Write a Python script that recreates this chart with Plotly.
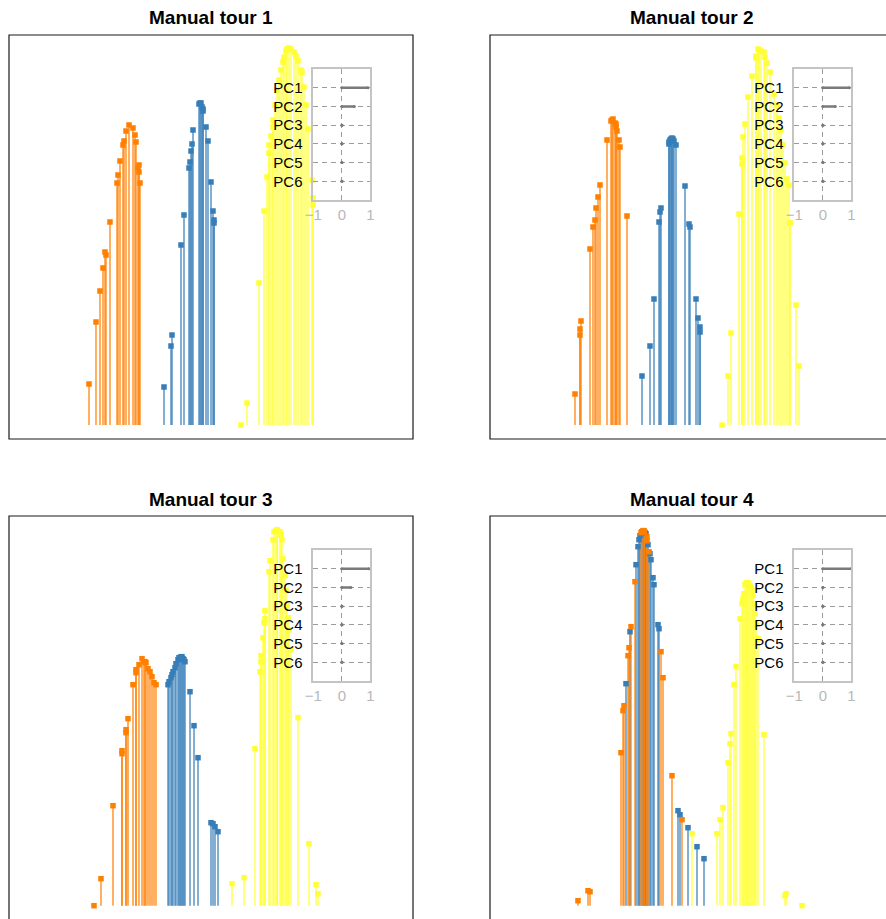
import plotly.graph_objects as go

# ---------------- data (projected value, density) ----------------
tour1_orange_x = [0.80, 0.87, 0.91, 0.94, 0.96, 0.97, 1.01, 1.08, 1.09, 1.11, 1.14, 1.15, 1.17, 1.20, 1.24, 1.26, 1.27, 1.30, 1.30, 1.29, 1.31]
tour1_orange_y = [0.41, 1.03, 1.34, 1.57, 1.73, 1.70, 2.03, 2.42, 2.50, 2.64, 2.80, 2.84, 2.94, 3.00, 2.97, 2.90, 2.83, 2.60, 2.53, 2.57, 2.42]
tour1_blue_x = [1.55, 1.62, 1.63, 1.72, 1.75, 1.80, 1.81, 1.82, 1.83, 1.84, 1.90, 1.91, 1.92, 1.93, 1.94, 1.94, 1.97, 1.99, 2.02, 2.04, 2.05, 2.05]
tour1_blue_y = [0.38, 0.79, 0.90, 1.80, 2.10, 2.57, 2.63, 2.74, 2.81, 2.95, 3.21, 3.22, 3.22, 3.18, 3.16, 3.14, 2.98, 2.84, 2.43, 2.14, 2.05, 2.02]
tour1_yellow_x = [2.32, 2.38, 2.50, 2.55, 2.58, 2.60, 2.60, 2.62, 2.64, 2.64, 2.74, 2.75, 2.77, 2.78, 2.85, 2.87, 2.92, 2.93, 2.95, 2.99, 3.03, 3.04, 3.04, 2.66, 2.68, 2.70, 2.72, 2.80, 2.82, 2.89, 2.97]
tour1_yellow_y = [0.00, 0.22, 1.42, 2.14, 2.48, 2.72, 2.80, 2.89, 2.98, 3.05, 3.63, 3.68, 3.74, 3.76, 3.73, 3.69, 3.55, 3.53, 3.38, 2.96, 2.45, 2.27, 2.20, 3.20, 3.35, 3.45, 3.55, 3.77, 3.76, 3.64, 3.20]

tour2_orange_x = [0.85, 0.90, 0.90, 0.91, 1.00, 1.03, 1.05, 1.06, 1.08, 1.10, 1.17, 1.21, 1.23, 1.26, 1.26, 1.27, 1.29, 1.30, 1.37, 1.22, 1.25]
tour2_orange_y = [0.31, 0.90, 0.96, 1.04, 1.76, 1.98, 2.05, 2.17, 2.28, 2.40, 2.85, 3.04, 3.06, 3.01, 2.98, 2.94, 2.85, 2.78, 2.09, 3.05, 3.02]
tour2_blue_x = [1.52, 1.60, 1.64, 1.69, 1.70, 1.71, 1.79, 1.80, 1.82, 1.83, 1.84, 1.86, 1.95, 1.99, 2.00, 2.06, 2.08, 2.10, 2.10, 1.81, 1.82, 1.79]
tour2_blue_y = [0.49, 0.79, 1.26, 2.03, 2.13, 2.17, 2.81, 2.85, 2.86, 2.86, 2.84, 2.80, 2.39, 2.01, 1.98, 1.26, 1.07, 0.98, 0.93, 2.86, 2.87, 2.83]
tour2_yellow_x = [2.32, 2.38, 2.41, 2.49, 2.52, 2.52, 2.53, 2.55, 2.58, 2.62, 2.66, 2.66, 2.68, 2.74, 2.75, 2.80, 2.84, 2.97, 2.99, 3.00, 3.00, 3.06, 3.09, 2.69, 2.71, 2.87, 2.89, 2.91, 2.93, 2.95, 2.77]
tour2_yellow_y = [0.00, 0.49, 0.92, 2.11, 2.61, 2.67, 2.88, 3.01, 3.28, 3.49, 3.67, 3.69, 3.76, 3.73, 3.68, 3.53, 3.31, 2.46, 2.40, 2.02, 2.02, 1.20, 0.59, 3.75, 3.74, 3.20, 3.07, 2.95, 2.80, 2.62, 3.62]

tour3_orange_x = [0.85, 0.92, 1.04, 1.13, 1.13, 1.17, 1.17, 1.19, 1.24, 1.27, 1.27, 1.33, 1.35, 1.37, 1.39, 1.41, 1.43, 1.45, 1.47, 1.30, 1.36]
tour3_orange_y = [0.00, 0.27, 1.00, 1.55, 1.52, 1.76, 1.73, 1.87, 2.21, 2.36, 2.33, 2.47, 2.44, 2.43, 2.37, 2.34, 2.29, 2.23, 2.21, 2.41, 2.44]
tour3_blue_x = [1.59, 1.60, 1.63, 1.66, 1.69, 1.70, 1.73, 1.74, 1.76, 1.81, 1.85, 1.89, 2.02, 2.04, 2.06, 2.09, 1.67, 1.71, 1.75, 1.62, 1.72, 1.64]
tour3_blue_y = [2.21, 2.24, 2.31, 2.38, 2.46, 2.48, 2.49, 2.47, 2.44, 2.14, 1.80, 1.48, 0.83, 0.82, 0.79, 0.74, 2.42, 2.48, 2.46, 2.28, 2.49, 2.34]
tour3_yellow_x = [2.23, 2.35, 2.46, 2.51, 2.52, 2.52, 2.54, 2.55, 2.56, 2.56, 2.60, 2.64, 2.65, 2.71, 2.72, 2.73, 2.74, 2.80, 2.82, 2.89, 3.00, 3.07, 3.09, 2.67, 2.685, 2.61, 2.76, 2.77, 2.78, 2.79, 2.68]
tour3_yellow_y = [0.22, 0.28, 1.57, 2.34, 2.44, 2.50, 2.68, 2.83, 2.87, 2.95, 3.34, 3.66, 3.74, 3.74, 3.71, 3.66, 3.47, 2.76, 2.56, 1.88, 0.62, 0.21, 0.12, 3.75, 3.75, 3.45, 3.30, 3.15, 3.00, 2.88, 3.76]

tour4_orange_x = [0.88, 0.98, 1.00, 1.31, 1.33, 1.34, 1.38, 1.39, 1.41, 1.45, 1.51, 1.53, 1.54, 1.57, 1.57, 1.59, 1.71, 1.73, 1.82, 1.92, 1.545]
tour4_orange_y = [0.05, 0.15, 0.14, 1.53, 1.95, 2.00, 2.50, 2.58, 2.79, 3.24, 3.73, 3.75, 3.75, 3.69, 3.65, 3.54, 2.54, 2.28, 1.30, 0.86, 3.74]
tour4_blue_x = [1.36, 1.40, 1.48, 1.49, 1.50, 1.55, 1.60, 1.61, 1.63, 1.64, 1.68, 1.69, 1.88, 1.90, 1.98, 2.07, 2.14, 1.52, 1.535, 1.56, 1.58, 1.46]
tour4_blue_y = [2.22, 2.74, 3.59, 3.66, 3.70, 3.73, 3.52, 3.46, 3.28, 3.21, 2.81, 2.77, 0.95, 0.91, 0.78, 0.59, 0.47, 3.74, 3.75, 3.72, 3.61, 3.41]
tour4_yellow_x = [2.02, 2.27, 2.30, 2.33, 2.38, 2.40, 2.41, 2.44, 2.46, 2.50, 2.54, 2.55, 2.57, 2.58, 2.60, 2.61, 2.68, 2.74, 2.96, 2.95, 3.12, 2.56, 2.59, 2.62, 2.63, 2.64, 2.65, 2.66, 2.52, 2.57, 2.53]
tour4_yellow_y = [0.72, 0.72, 0.86, 0.98, 1.43, 1.62, 1.72, 2.21, 2.39, 2.87, 3.12, 3.21, 3.23, 3.23, 3.20, 3.18, 2.67, 1.71, 0.12, 0.10, 0.00, 3.22, 3.22, 3.15, 3.10, 3.02, 2.92, 2.82, 3.02, 3.23, 3.07]

pc_labels = ["PC1", "PC2", "PC3", "PC4", "PC5", "PC6"]
tour1_coef = [0.92, 0.44, 0.01, 0.01, 0.01, 0.01]
tour2_coef = [0.93, 0.44, 0.01, 0.01, 0.01, 0.01]
tour3_coef = [0.95, 0.32, 0.01, 0.01, 0.01, 0.01]
tour4_coef = [1.00, 0.01, 0.01, 0.01, 0.01, 0.01]
titles = ["Manual tour 1", "Manual tour 2", "Manual tour 3", "Manual tour 4"]

# ---------------- styling / layout ----------------
W, H = 886, 919
ORANGE, BLUE, YELLOW = "#FF7F00", "#377EB8", "#FFFF33"
FONT = "Liberation Sans, Arial, sans-serif"
PX_PER_UNIT = 100.0
FRAME_W, FRAME_H = 404, 404

panels = [
    dict(left=9, top=35, base=425,
         groups=[(tour1_blue_x, tour1_blue_y, BLUE), (tour1_orange_x, tour1_orange_y, ORANGE), (tour1_yellow_x, tour1_yellow_y, YELLOW)],
         coef=tour1_coef),
    dict(left=490, top=35, base=425,
         groups=[(tour2_blue_x, tour2_blue_y, BLUE), (tour2_orange_x, tour2_orange_y, ORANGE), (tour2_yellow_x, tour2_yellow_y, YELLOW)],
         coef=tour2_coef),
    dict(left=9, top=516, base=905.7,
         groups=[(tour3_blue_x, tour3_blue_y, BLUE), (tour3_orange_x, tour3_orange_y, ORANGE), (tour3_yellow_x, tour3_yellow_y, YELLOW)],
         coef=tour3_coef),
    dict(left=490, top=516, base=905.7,
         groups=[(tour4_blue_x, tour4_blue_y, BLUE), (tour4_orange_x, tour4_orange_y, ORANGE), (tour4_yellow_x, tour4_yellow_y, YELLOW)],
         coef=tour4_coef),
]

fig = go.Figure()
layout = {}
shapes = []
annotations = []


def stems(xs, ys):
    sx, sy = [], []
    for x, y in zip(xs, ys):
        sx += [x, x, None]
        sy += [0, y, None]
    return sx, sy


for i, p in enumerate(panels):
    n = i + 1
    ax = "" if n == 1 else str(n)
    left, top, base = p["left"], p["top"], p["base"]
    right = min(left + FRAME_W, W)
    bottom = min(top + FRAME_H, H)
    layout[f"xaxis{ax}"] = dict(domain=[left / W, right / W],
                                range=[0, (right - left) / PX_PER_UNIT],
                                visible=False, fixedrange=True)
    layout[f"yaxis{ax}"] = dict(domain=[1 - bottom / H, 1 - top / H],
                                range=[-(bottom - base) / PX_PER_UNIT, (base - top) / PX_PER_UNIT],
                                visible=False, fixedrange=True)
    for xs, ys, col in p["groups"]:
        sx, sy = stems(xs, ys)
        fig.add_trace(go.Scatter(x=sx, y=sy, mode="lines", xaxis=f"x{ax}", yaxis=f"y{ax}",
                                 line=dict(color=col, width=1.3), opacity=0.95,
                                 showlegend=False, hoverinfo="skip"))
    for xs, ys, col in p["groups"]:
        fig.add_trace(go.Scatter(x=xs, y=ys, mode="markers", xaxis=f"x{ax}", yaxis=f"y{ax}",
                                 marker=dict(symbol="square", size=5.5, color=col, line=dict(width=0)),
                                 showlegend=False, hoverinfo="skip"))
    shapes.append(dict(type="rect", xref="paper", yref="paper",
                       x0=left / W, x1=(left + FRAME_W) / W,
                       y0=1 - (top + FRAME_H) / H, y1=1 - top / H,
                       line=dict(color="#1a1a1a", width=1.2), layer="above"))
    annotations.append(dict(text=f"<b>{titles[i]}</b>", xref="paper", yref="paper",
                            x=(left + FRAME_W / 2) / W, y=1 - (top - 17) / H,
                            xanchor="center", yanchor="middle", showarrow=False,
                            font=dict(family=FONT, size=19, color="black")))

    m = n + 4
    bl, bt = left + 304.3, top + 34
    bw, bh = 57, 131
    layout[f"xaxis{m}"] = dict(domain=[bl / W, (bl + bw) / W], range=[-1, 1],
                               tickvals=[-1, 0, 1], ticks="", showgrid=True,
                               gridcolor="#9c9c9c", griddash="5px,4px", gridwidth=1,
                               zeroline=False, showline=True, mirror=True,
                               linecolor="#c4c4c4", linewidth=1.5,
                               tickfont=dict(family=FONT, size=15, color="#b8b8b8"),
                               ticklabelstandoff=0, anchor=f"y{m}", fixedrange=True)
    layout[f"yaxis{m}"] = dict(domain=[1 - (bt + bh) / H, 1 - bt / H], range=[0, 7],
                               tickvals=[6, 5, 4, 3, 2, 1], ticktext=pc_labels, ticks="",
                               showgrid=True, gridcolor="#9c9c9c", griddash="5px,4px", gridwidth=1,
                               zeroline=False, showline=True, mirror=True,
                               linecolor="#c4c4c4", linewidth=1.5,
                               tickfont=dict(family=FONT, size=15, color="black"),
                               ticklabelstandoff=6, anchor=f"x{m}", fixedrange=True)
    cx, cy = [], []
    for row, v in zip([6, 5, 4, 3, 2, 1], p["coef"]):
        cx += [0, v, None]
        cy += [row, row, None]
    fig.add_trace(go.Scatter(x=cx, y=cy, mode="lines+markers", xaxis=f"x{m}", yaxis=f"y{m}",
                             line=dict(color="#7a7a7a", width=2.5),
                             marker=dict(size=3, color="#7a7a7a"),
                             showlegend=False, hoverinfo="skip"))

fig.update_layout(width=W, height=H, autosize=False,
                  margin=dict(l=0, r=0, t=0, b=0, pad=0, autoexpand=False),
                  paper_bgcolor="white", plot_bgcolor="rgba(0,0,0,0)",
                  shapes=shapes, annotations=annotations, showlegend=False,
                  font=dict(family=FONT), **layout)

fig.write_html("out.html", config={"responsive": False, "displayModeBar": False},
               post_script="document.body.style.margin='0';document.body.style.overflow='hidden';")
